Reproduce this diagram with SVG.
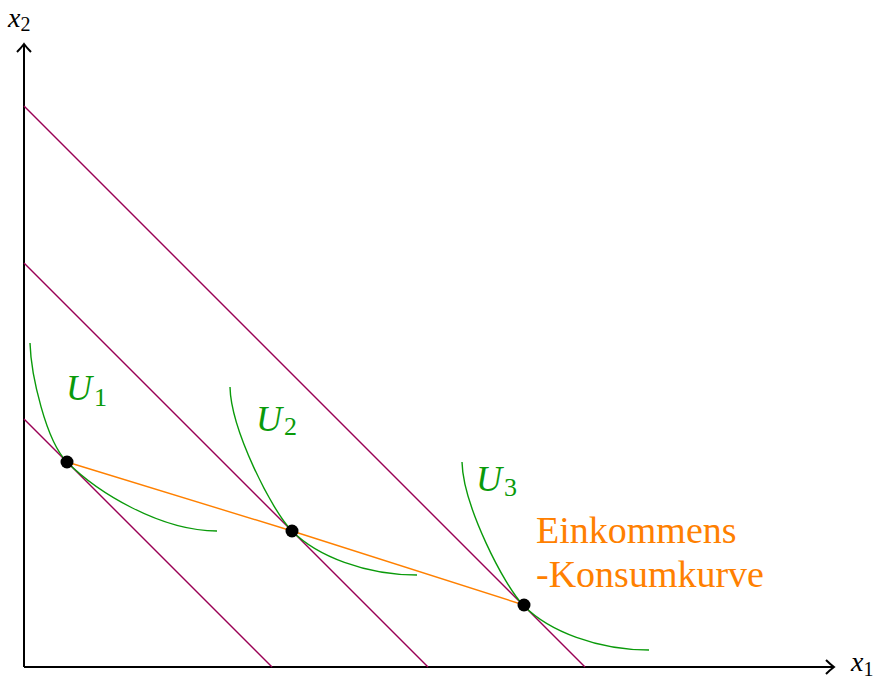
<svg xmlns="http://www.w3.org/2000/svg" width="888" height="683" viewBox="0 0 888 683">
<style>
.ax{stroke:#000;stroke-width:2;fill:none}
.bud{stroke:#990055;stroke-width:1.4;fill:none}
.ind{stroke:#0a9a0a;stroke-width:1.4;fill:none}
.icc{stroke:#ff8000;stroke-width:1.4;fill:none}
.dot{fill:#000}
.lab{font-family:'Liberation Serif','DejaVu Serif',serif}
.ul{fill:#0a9a0a;font-style:italic;font-size:36px}
.sub{font-style:normal}
.xl{fill:#000;font-style:italic;font-size:28px}
.txt{fill:#ff8000;font-size:38px}
</style>
<rect width="888" height="683" fill="#fff"/>
<g id="connectors">
<g id="axes">
<path class="ax" d="M24,667 L24,45"/>
<path class="ax" d="M17,52 Q21,48 24,44 Q27,48 31,52"/>
<path class="ax" d="M24,667 L833,667"/>
<path class="ax" d="M826,660 Q830,664 834,667 Q830,670 826,674"/>
</g>
<g id="budget-lines">
<path class="bud" d="M24,419 L272,667"/>
<path class="bud" d="M24,263 L428,667"/>
<path class="bud" d="M24,106 L585,667"/>
</g>
<g id="income-consumption-curve">
<path class="icc" d="M67,462 L292,531 L524,605"/>
</g>
</g>
<g id="U1">
<path class="ind" d="M30,343 C31,375 46,441 67,462 C97,492 160,531 217,531"/>
<text class="lab ul" x="66" y="400">U<tspan class="sub" font-size="26" dx="2" dy="6">1</tspan></text>
</g>
<g id="U2">
<path class="ind" d="M230,387 C231,430 272,511 292,531 C317,556 365,575 417,575"/>
<text class="lab ul" x="256" y="431">U<tspan class="sub" font-size="26" dx="2" dy="4">2</tspan></text>
</g>
<g id="U3">
<path class="ind" d="M462,462 C463,505 504,586 524,606 C549,631 597,650 649,650"/>
<text class="lab ul" x="476" y="491">U<tspan class="sub" font-size="26" dx="2" dy="5">3</tspan></text>
</g>
<g id="points">
<circle class="dot" cx="67" cy="462" r="6.5"/>
<circle class="dot" cx="292" cy="531" r="6.5"/>
<circle class="dot" cx="524" cy="605" r="6.5"/>
</g>
<g id="label-x2">
<text class="lab xl" x="8" y="27">x<tspan class="sub" font-size="20" dy="4">2</tspan></text>
</g>
<g id="label-x1">
<text class="lab xl" x="851" y="671">x<tspan class="sub" font-size="20" dy="5">1</tspan></text>
</g>
<g id="label-icc">
<text class="lab txt" x="536" y="543">Einkommens</text>
<text class="lab txt" x="536" y="587">-Konsumkurve</text>
</g>
</svg>
